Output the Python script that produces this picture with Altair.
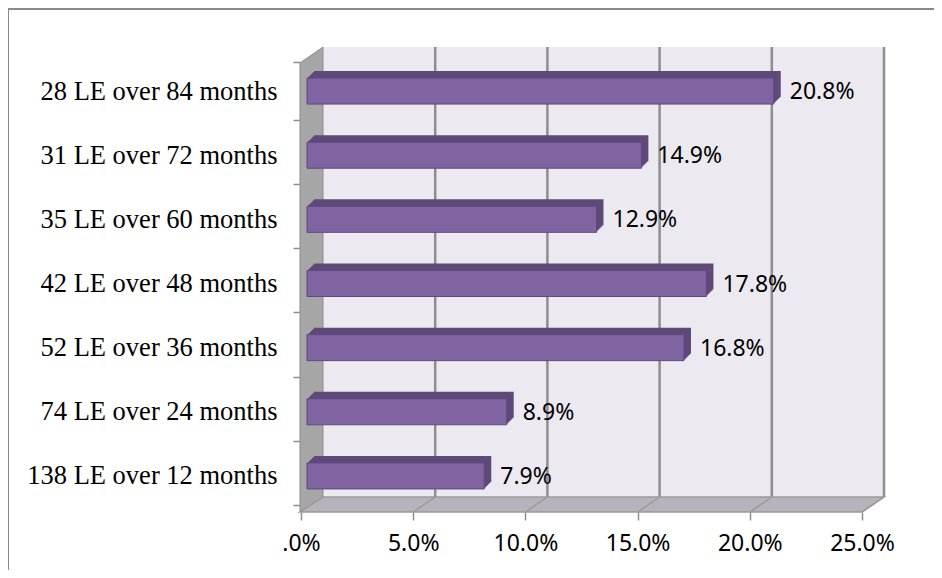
import altair as alt
import pandas as pd

categories = [
    "28 LE over 84 months",
    "31 LE over 72 months",
    "35 LE over 60 months",
    "42 LE over 48 months",
    "52 LE over 36 months",
    "74 LE over 24 months",
    "138 LE over 12 months",
]
values = [20.8, 14.9, 12.9, 17.8, 16.8, 8.9, 7.9]
tick_values = [0, 5, 10, 15, 20, 25]
grid_values = [5, 10, 15, 20, 25]

W, H = 561, 449
FRONT = "#8064A2"
DARK = "#5E4979"
GRID = "#8E8E8E"

df = pd.DataFrame({"cat": categories, "value": values})
one = pd.DataFrame({"d": [0]})
wall_df = pd.DataFrame({"a": [0], "b": [25]})
grid_df = pd.DataFrame({"v": grid_values})

xscale = alt.Scale(domain=[0, 25], nice=False, zero=True)
yscale = alt.Scale(domain=categories)

x_axis = alt.Axis(
    values=tick_values,
    labelExpr="datum.value == 0 ? '.0%' : format(datum.value, '.1f') + '%'",
    domain=False, grid=False, offset=4, tickOffset=-6, tickSize=8,
    tickColor=GRID, tickWidth=1.5, labelPadding=12, labelFlush=False,
    labelOverlap=False, labelBound=False,
    labelFont="Noto Sans", labelFontSize=23, labelColor="black", title=None,
)
y_axis = alt.Axis(
    domain=False, grid=False, offset=7, tickBand="extent", tickOffset=4,
    tickSize=7, tickColor=GRID, tickWidth=1.5, labelPadding=16, labelLimit=0,
    labelFont="Liberation Serif", labelFontSize=26.5, labelColor="black", title=None,
)

frame = alt.Chart(one).mark_rect(fillOpacity=0, stroke="#8A8A8A", strokeWidth=2).encode(
    x=alt.value(-299), x2=alt.value(2000), y=alt.value(-50), y2=alt.value(2000)
)

back_wall = alt.Chart(wall_df).mark_rect(fill="#ECE9F1", xOffset=16, x2Offset=16).encode(
    x=alt.X("a:Q", scale=xscale), x2="b:Q", y=alt.value(-12), y2=alt.value(438)
)

left_wall = alt.Chart(one).mark_point(
    shape="M-7,4L16,-12L16,438L-7,453Z", size=4, filled=True,
    fill="#A6A6A6", stroke="#8C8C8C", strokeWidth=1, opacity=1,
).encode(x=alt.value(0), y=alt.value(0))

floor = alt.Chart(one).mark_point(
    shape="M16,438L577,438L555,453L-7,453Z", size=4, filled=True,
    fill="#B7B3BA", stroke="#9A9A9A", strokeWidth=1.5, opacity=1,
).encode(x=alt.value(0), y=alt.value(0))

grid_back = alt.Chart(grid_df).mark_rule(color=GRID, strokeWidth=2.5, xOffset=16).encode(
    x=alt.X("v:Q", scale=xscale), y=alt.value(-12), y2=alt.value(438)
)
grid_floor = alt.Chart(grid_df).mark_rule(
    color="#9A9A9A", strokeWidth=1.5, xOffset=16, x2Offset=-6
).encode(
    x=alt.X("v:Q", scale=xscale), x2="v:Q", y=alt.value(438), y2=alt.value(453)
)

base = alt.Chart(df)

depth_layers = []
for off in [1, 2, 3, 4, 5, 6, 7]:
    depth_layers.append(
        base.mark_bar(size=26, color=DARK, xOffset=off, x2Offset=off,
                      yOffset=-off, y2Offset=-off).encode(
            x=alt.X("value:Q", scale=xscale),
            y=alt.Y("cat:N", scale=yscale, sort=None),
        )
    )

front = base.mark_bar(size=26, color=FRONT, stroke="#5D4A80", strokeWidth=1).encode(
    x=alt.X("value:Q", scale=xscale, axis=x_axis),
    y=alt.Y("cat:N", scale=yscale, sort=None, axis=y_axis),
)

labels = base.transform_calculate(
    label="format(datum.value, '.1f') + '%'"
).mark_text(
    align="left", baseline="middle", dx=16, dy=1,
    font="Noto Sans", fontSize=23, color="black",
).encode(
    x=alt.X("value:Q", scale=xscale),
    y=alt.Y("cat:N", scale=yscale, sort=None),
    text="label:N",
)

chart = alt.layer(
    frame, back_wall, grid_back, left_wall, floor, grid_floor,
    *depth_layers, front, labels,
).properties(
    width=W, height=H,
    autosize=alt.AutoSizeParams(type="none"),
    padding={"left": 299, "top": 51, "right": 66, "bottom": 62},
    background="white",
).configure_view(stroke=None)

chart.save("out.html", embed_options={"renderer": "svg", "actions": False})
